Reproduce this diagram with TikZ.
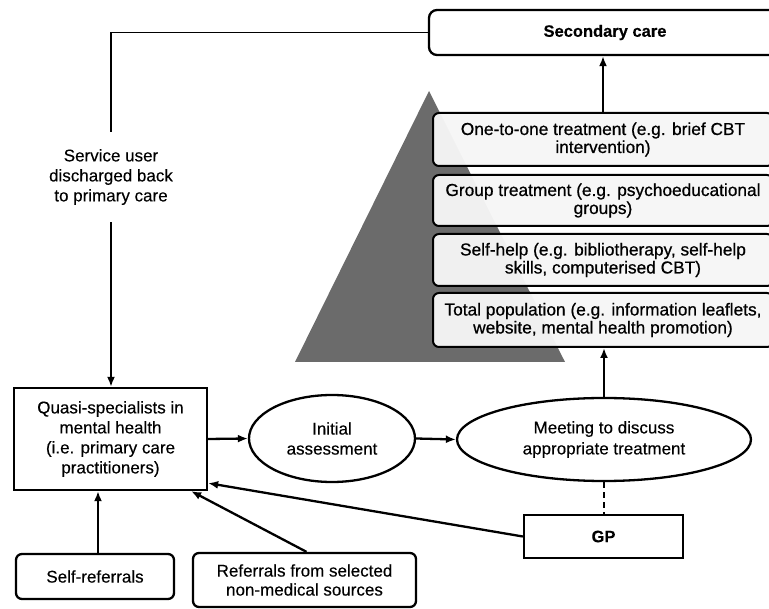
\documentclass[tikz,border=0pt]{standalone}
\usepackage{fontspec}
\setmainfont{Liberation Sans}[FakeBold=0.25]
\newfontfamily\tierfont{Liberation Sans}[FakeBold=0.7]
\usetikzlibrary{shapes.geometric,arrows.meta}
\begin{document}
\begin{tikzpicture}[x=1pt,y=-1pt,
  txt/.style={font=\fontsize{17}{20}\selectfont, align=center, inner sep=0pt},
  rbox/.style={txt, draw, line width=2.3pt, rounded corners=6pt, fill=white},
  sbox/.style={txt, draw, line width=2.3pt, fill=white},
  oval/.style={txt, draw, line width=2.3pt, ellipse, fill=white},
  tier/.style={draw, line width=2pt, rounded corners=6pt, fill=gray!7, fill opacity=0.96, text opacity=1,
     align=center, inner sep=0pt, minimum width=340pt, font=\tierfont\fontsize{17.3}{18}\selectfont},
  arr/.style={-{Latex[length=10pt,width=8pt]}, line width=2.3pt},
  conn/.style={line width=2.3pt}
]
\useasboundingbox (0,0) rectangle (769,609);
\clip (0,0) rectangle (769,609);

% pyramid
\fill[fill=black!58] (295,362) -- (565,362) -- (429,91) -- cycle;

% tiers
\node[tier, minimum height=53pt] (t1) at (603,139.5) {One-to-one treatment (e.g. brief CBT\\intervention)};
\node[tier, minimum height=51pt] (t2) at (603,200.5) {Group treatment (e.g. psychoeducational\\groups)};
\node[tier, minimum height=52pt] (t3) at (603,260) {Self-help (e.g. bibliotherapy, self-help\\skills, computerised CBT)};
\node[tier, minimum height=54pt] (t4) at (603,320) {Total population (e.g. information leaflets,\\website, mental health promotion)};

% secondary care
\node[rbox, rounded corners=8pt, minimum width=352pt, minimum height=45pt, font=\fontsize{16.5}{20}\selectfont\bfseries] (sec) at (605,32.5) {Secondary care};

% left column
\node[sbox, minimum width=193pt, minimum height=102pt] (quasi) at (110.5,439) {Quasi-specialists in\\mental health\\(i.e. primary care\\practitioners)};
\node[txt, minimum height=90pt] (lab) at (111,177) {Service user\\discharged back\\to primary care};

\node[oval, minimum width=166pt, minimum height=87pt] (init) at (332,438.5) {Initial\\assessment};
\node[oval, minimum width=294pt, minimum height=83pt, font=\fontsize{17}{21}\selectfont] (meet) at (604,439.5) {Meeting to discuss\\appropriate treatment};
\node[sbox, minimum width=159pt, minimum height=43pt, font=\fontsize{16.5}{20}\selectfont\bfseries] (gp) at (603.5,536.5) {GP};

\node[rbox, minimum width=158pt, minimum height=45pt] (self) at (95,576.5) {Self-referrals};
\node[rbox, minimum width=223pt, minimum height=54pt, font=\fontsize{17}{19}\selectfont] (ref) at (304.5,580) {Referrals from selected\\non-medical sources};

% connectors
\draw[line width=1.8pt] (sec.west) -| (lab.north);
\draw[arr] (lab.south) -- (lab.south |- quasi.north);
\draw[arr] (quasi.east) -- (init.west);
\draw[arr] (init.east) -- (meet.west);
\draw[arr] (meet.north) -- (meet.north |- t4.south);
\draw[arr] (t1.north) -- (t1.north |- sec.south);
\draw[conn, dash pattern=on 6pt off 4pt] (meet.south) -- (meet.south |- gp.north);
\draw[arr] (gp.west) -- ([yshift=8pt]quasi.south east);
\draw[arr] ([xshift=3pt]self.north) -- ([xshift=3pt]self.north |- quasi.south);
\draw[arr] ([xshift=2pt]ref.north) -- ([xshift=-17pt]quasi.south east);
\end{tikzpicture}
\end{document}
